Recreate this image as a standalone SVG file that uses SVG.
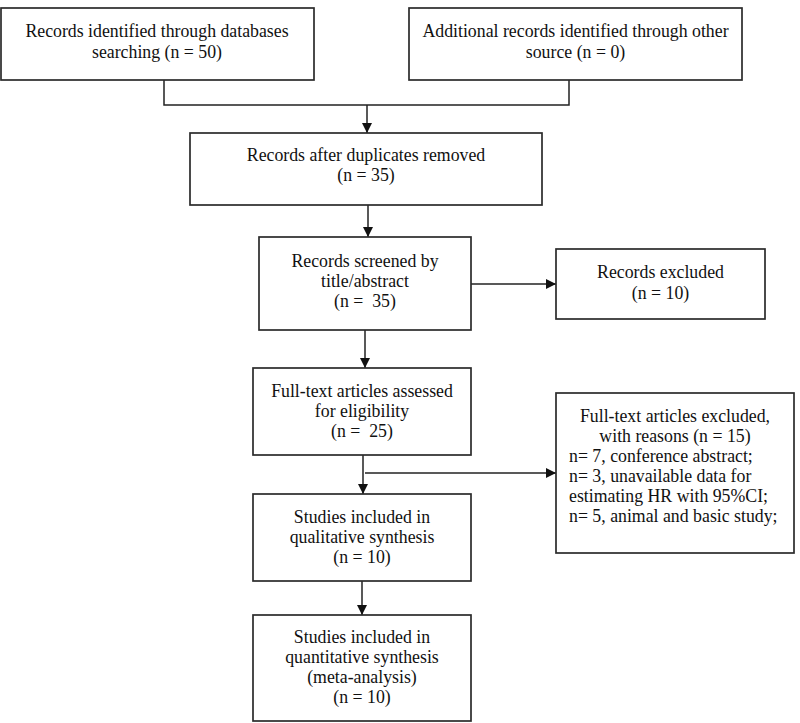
<svg xmlns="http://www.w3.org/2000/svg" width="800" height="723" viewBox="0 0 800 723">
<style>
.box{fill:#fff;stroke:#2b2b2b;stroke-width:1.7}
.t{font-family:"Liberation Serif","Times New Roman",serif;font-size:17.8px;fill:#111;text-anchor:middle}
.l{text-anchor:start}
.c{fill:none;stroke:#222;stroke-width:1.5}
</style>
<defs>
<marker id="ah" markerUnits="userSpaceOnUse" markerWidth="10" markerHeight="10" refX="10" refY="5" orient="auto">
<path d="M0,0 L10,5 L0,10 z" fill="#111"/>
</marker>
</defs>
<rect width="800" height="723" fill="#fff"/>
<g id="connectors">
<path class="c" d="M164,80 V105 H569 V80"/>
<path class="c" d="M367,105 V133" marker-end="url(#ah)"/>
<path class="c" d="M368,205 V237" marker-end="url(#ah)"/>
<path class="c" d="M471,284 H556" marker-end="url(#ah)"/>
<path class="c" d="M365,330 V368" marker-end="url(#ah)"/>
<path class="c" d="M363,455 V494" marker-end="url(#ah)"/>
<path class="c" d="M365,473 H556" marker-end="url(#ah)"/>
<path class="c" d="M362,581 V615" marker-end="url(#ah)"/>
</g>
<g id="n1">
<rect class="box" x="1" y="8" width="313" height="72"/>
<text class="t" x="157" y="37">Records identified through databases</text>
<text class="t" x="157" y="58">searching (n = 50)</text>
</g>
<g id="n2">
<rect class="box" x="409" y="8" width="333" height="72"/>
<text class="t" x="575.5" y="37">Additional records identified through other</text>
<text class="t" x="575.5" y="58">source (n = 0)</text>
</g>
<g id="n3">
<rect class="box" x="190" y="133" width="352" height="72"/>
<text class="t" x="366" y="161">Records after duplicates removed</text>
<text class="t" x="366" y="181">(n = 35)</text>
</g>
<g id="n4">
<rect class="box" x="259" y="237" width="212" height="93"/>
<text class="t" x="365" y="267">Records screened by</text>
<text class="t" x="365" y="287">title/abstract</text>
<text class="t" x="365" y="307" xml:space="preserve">(n =  35)</text>
</g>
<g id="n5">
<rect class="box" x="556" y="249" width="209" height="70"/>
<text class="t" x="660.5" y="278">Records excluded</text>
<text class="t" x="660.5" y="299">(n = 10)</text>
</g>
<g id="n6">
<rect class="box" x="253" y="368" width="218" height="87"/>
<text class="t" x="362" y="397">Full-text articles assessed</text>
<text class="t" x="362" y="417">for eligibility</text>
<text class="t" x="362" y="437" xml:space="preserve">(n =  25)</text>
</g>
<g id="n7">
<rect class="box" x="556" y="393" width="238" height="160"/>
<text class="t" x="675" y="422">Full-text articles excluded,</text>
<text class="t" x="675" y="442">with reasons (n = 15)</text>
<text class="t l" x="569" y="462">n= 7, conference abstract;</text>
<text class="t l" x="569" y="482">n= 3, unavailable data for</text>
<text class="t l" x="569" y="502">estimating HR with 95%CI;</text>
<text class="t l" x="569" y="522">n= 5, animal and basic study;</text>
</g>
<g id="n8">
<rect class="box" x="253" y="494" width="218" height="87"/>
<text class="t" x="362" y="523">Studies included in</text>
<text class="t" x="362" y="543">qualitative synthesis</text>
<text class="t" x="362" y="563">(n = 10)</text>
</g>
<g id="n9">
<rect class="box" x="253" y="615" width="218" height="106"/>
<text class="t" x="362" y="643">Studies included in</text>
<text class="t" x="362" y="663">quantitative synthesis</text>
<text class="t" x="362" y="683">(meta-analysis)</text>
<text class="t" x="362" y="703">(n = 10)</text>
</g>
</svg>
